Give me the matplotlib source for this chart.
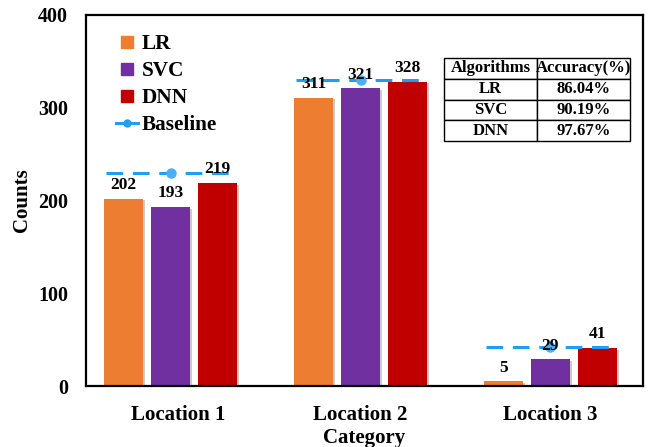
import matplotlib
matplotlib.use("Agg")
import matplotlib.pyplot as plt
import matplotlib.patheffects as pe
from matplotlib.lines import Line2D
from matplotlib.transforms import ScaledTranslation
import numpy as np

# --- data ---
categories = ["Location 1", "Location 2", "Location 3"]
lr_counts = [202, 311, 5]
svc_counts = [193, 321, 29]
dnn_counts = [219, 328, 41]
baseline = [230, 330, 42]

table_header = ["Algorithms", "Accuracy(%)"]
table_rows = [["LR", "86.04%"], ["SVC", "90.19%"], ["DNN", "97.67%"]]

C_LR = "#ED7D31"
C_SVC = "#7030A0"
C_DNN = "#C00000"
C_BASE = "#1E9FF2"

plt.rcParams["font.family"] = ["Liberation Serif", "DejaVu Serif"]
plt.rcParams["font.weight"] = "bold"
plt.rcParams["lines.scale_dashes"] = False

fig = plt.figure(figsize=(6.49, 4.47), dpi=100)
ax = fig.add_axes([86 / 649, 1 - 386 / 447, 557 / 649, 371 / 447])

x = np.arange(len(categories))
w = 0.205
off = 0.247
shadow = [pe.SimplePatchShadow(offset=(1.2, -1.2), shadow_rgbFace="#999999", alpha=0.5), pe.Normal()]

series = [(lr_counts, C_LR, -off), (svc_counts, C_SVC, 0), (dnn_counts, C_DNN, off)]
for vals, col, dx in series:
    bars = ax.bar(x + dx, vals, width=w, color=col, zorder=2)
    for b in bars:
        b.set_path_effects(shadow)
    for xi, v in zip(x + dx, vals):
        ax.text(xi, v + 6, str(v), ha="center", va="bottom", fontsize=12.5,
                fontweight="bold", zorder=5)

# baseline: dashed segment across each group with a dot in the middle
for xi, b in zip(x, baseline):
    ax.plot([xi - off - w / 2 + 0.01, xi + off + w / 2], [b, b], color=C_BASE, lw=2.2,
            dashes=(12, 7), zorder=4)
    ax.plot([xi], [b], "o", color="#4DAEF5", ms=6.5, zorder=4)

ax.set_xlim(-0.445, 2.487)
ax.set_ylim(0, 400)
ax.set_yticks([0, 100, 200, 300, 400])
ax.set_xticks(x)
ax.set_xticklabels(categories, fontsize=15, fontweight="bold")
ax.tick_params(axis="both", length=0)
ax.tick_params(axis="x", pad=14)
ax.tick_params(axis="y", labelsize=14.4, pad=13)
for lab in ax.get_yticklabels():
    lab.set_fontweight("bold")
# first category label sits a little right of its bars in the original
first = ax.get_xticklabels()[0]
first.set_transform(first.get_transform() + ScaledTranslation(0.08, 0, fig.dpi_scale_trans))
for s in ax.spines.values():
    s.set_linewidth(1.6)

ax.set_ylabel("Counts", fontsize=15, fontweight="bold")
ax.yaxis.set_label_coords(-0.097, 0.5)
ax.set_xlabel("Category", fontsize=15, fontweight="bold", labelpad=2)

handles = [
    Line2D([], [], marker="s", ls="none", color=C_LR, ms=9),
    Line2D([], [], marker="s", ls="none", color=C_SVC, ms=9),
    Line2D([], [], marker="s", ls="none", color=C_DNN, ms=9),
    Line2D([], [], marker="o", color=C_BASE, lw=2.2, ms=5),
]
ax.legend(handles, ["LR", "SVC", "DNN", "Baseline"], loc="upper left",
          bbox_to_anchor=(0.02, 1.0), frameon=False, handlelength=1.0,
          handletextpad=0.2, labelspacing=0.33,
          prop={"family": "Liberation Serif", "weight": "bold", "size": 15.3})

tbl = ax.table(cellText=table_rows, colLabels=table_header, cellLoc="center",
               bbox=[0.643, 0.660, 0.334, 0.224], zorder=6)
tbl.auto_set_font_size(False)
for (r, c), cell in tbl.get_celld().items():
    cell.set_linewidth(1.0)
    cell.set_text_props(fontsize=12, fontweight="bold")
    cell.PAD = 0.01

fig.savefig("out.png", dpi=100)
